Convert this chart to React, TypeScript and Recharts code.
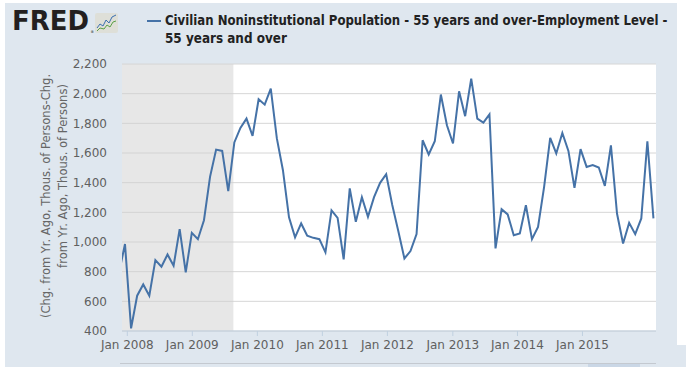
import { useLayoutEffect, useRef, useState } from "react";
import { LineChart, Line, XAxis, YAxis, CartesianGrid, ReferenceArea } from "recharts";

// change from a year ago, thousands of persons (first value sits just left of the plot and is clipped)
const employmentChg = [
  790, 986, 418, 638, 714, 638, 878, 833, 916, 840, 1087, 795, 1062, 1019, 1147, 1439, 1623, 1614, 1343, 1671,
  1769, 1832, 1715, 1962, 1926, 2034, 1698, 1484, 1166, 1031, 1125, 1042, 1028, 1019, 930, 1213, 1163, 883, 1361,
  1136, 1302, 1170, 1302, 1399, 1457, 1250, 1073, 889, 939, 1053, 1686, 1590, 1679, 1994, 1787, 1664, 2016, 1848,
  2102, 1832, 1805, 1861, 957, 1221, 1186, 1046, 1058, 1248, 1019, 1102, 1372, 1702, 1597, 1735, 1614, 1365, 1626,
  1506, 1518, 1502, 1378, 1652, 1192, 990, 1129, 1053, 1159, 1679, 1159,
];

const xTickPos = [0.38, 11.08, 21.79, 32.49, 43.2, 53.97, 64.61, 75.31];
const xTickLabels = ["Jan 2008", "Jan 2009", "Jan 2010", "Jan 2011", "Jan 2012", "Jan 2013", "Jan 2014", "Jan 2015"];
const yTicks = [400, 600, 800, 1000, 1200, 1400, 1600, 1800, 2000, 2200];

const recession = { from: -0.5, to: 17.84 };
const xDomain: [number, number] = [-0.494, 87.42];

const rows = employmentChg.map((v, i) => ({ i: i - 1, v }));

const blue = "#4572a7";
const tickFont = { fontFamily: "'DejaVu Sans', Verdana, sans-serif", fontSize: 12, fill: "#606060" };
const legendFont = "'Liberation Sans Narrow', 'DejaVu Sans Condensed', 'Liberation Sans', sans-serif";

const fmt = (n: number) => n.toLocaleString("en-US");

// squeeze a text horizontally so it spans the given width
const FitText = ({ x, y, width, children, ...rest }: any) => {
  const ref = useRef<SVGTextElement>(null);
  const [sx, setSx] = useState(1);
  useLayoutEffect(() => {
    if (ref.current) {
      const w = ref.current.getComputedTextLength();
      if (w > 0) setSx(width / w);
    }
  }, [width]);
  return (
    <text ref={ref} transform={`translate(${x},${y}) scale(${sx},1)`} {...rest}>
      {children}
    </text>
  );
};

const Header = () => (
  <svg width={686} height={367} style={{ position: "absolute", left: 0, top: 0 }}>
    <rect x={0} y={0} width={686} height={3} fill="#fff" />
    <rect x={0} y={0} width={5} height={367} fill="#fff" />
    <rect x={677} y={3} width={9} height={342} fill="#fff" />

    {/* FRED logo */}
    <FitText x={12} y={30} width={77} fontFamily="'DejaVu Sans', Arial, sans-serif" fontWeight={900} fontSize={27} fill="#231f20">
      FRED
    </FitText>
    <text x={90.5} y={33} fontSize={3.5} fill="#231f20" fontFamily="'DejaVu Sans', sans-serif">®</text>
    <rect x={95} y={13} width={23} height={20} rx={2} fill="#dedfd8" />
    <polyline points="97,28 100,24 103,26 106,20 109,23 112,17 116,15" fill="none" stroke="#3a6fb0" strokeWidth={1} />
    <polyline points="97,31 100,28 104,29 107,25 110,27 113,22 116,21" fill="none" stroke="#5aa046" strokeWidth={1} />

    {/* legend */}
    <line x1={147} x2={161} y1={21} y2={21} stroke={blue} strokeWidth={2} />
    <FitText x={165} y={25} width={503} fontFamily={legendFont} fontWeight={700} fontSize={14} fill="#222">
      Civilian Noninstitutional Population - 55 years and over-Employment Level -
    </FitText>
    <FitText x={165} y={43} width={122} fontFamily={legendFont} fontWeight={700} fontSize={14} fill="#222">
      55 years and over
    </FitText>

    {/* y axis title */}
    <g fontFamily="'DejaVu Sans', Verdana, sans-serif" fontSize={11.5} fill="#666" textAnchor="middle" dominantBaseline="central">
      <text transform="translate(45.5,196) rotate(-90)">(Chg. from Yr. Ago, Thous. of Persons-Chg.</text>
      <text transform="translate(62.5,176) rotate(-90)">from Yr. Ago, Thous. of Persons)</text>
    </g>

    {/* navigator edge */}
    <line x1={120} x2={656} y1={363.5} y2={363.5} stroke="#c4c9d0" />
    <rect x={588} y={364} width={52} height={3} fill="#cad7e6" />
  </svg>
);

export default function App() {
  return (
    <div style={{ position: "absolute", left: 0, top: 0, width: 686, height: 367, background: "#dfe7ef", overflow: "hidden" }}>
      <Header />
      <div style={{ position: "absolute", left: 0, top: 0 }}>
        <LineChart width={686} height={367} data={rows} margin={{ top: 64, right: 30, bottom: 6, left: 0 }}>
          <CartesianGrid vertical={false} stroke="#d6d6d6" fill="#ffffff" />
          <ReferenceArea x1={recession.from} x2={recession.to} fill="#cfcfcf" fillOpacity={0.5} stroke="none" ifOverflow="hidden" />
          <XAxis
            type="number"
            dataKey="i"
            domain={xDomain}
            allowDataOverflow
            ticks={xTickPos}
            tickFormatter={(t: number) => xTickLabels[xTickPos.indexOf(t)] ?? ""}
            interval={0}
            height={30}
            stroke="#c0d0e0"
            tickSize={5}
            tickMargin={4}
            tick={tickFont}
          />
          <YAxis
            type="number"
            domain={[400, 2200]}
            ticks={yTicks}
            interval={0}
            width={122}
            axisLine={false}
            tickLine={false}
            tickSize={0}
            tickMargin={15}
            tickFormatter={fmt}
            tick={tickFont}
          />
          <Line type="linear" dataKey="v" stroke={blue} strokeWidth={2} dot={false} isAnimationActive={false} />
        </LineChart>
      </div>
    </div>
  );
}
